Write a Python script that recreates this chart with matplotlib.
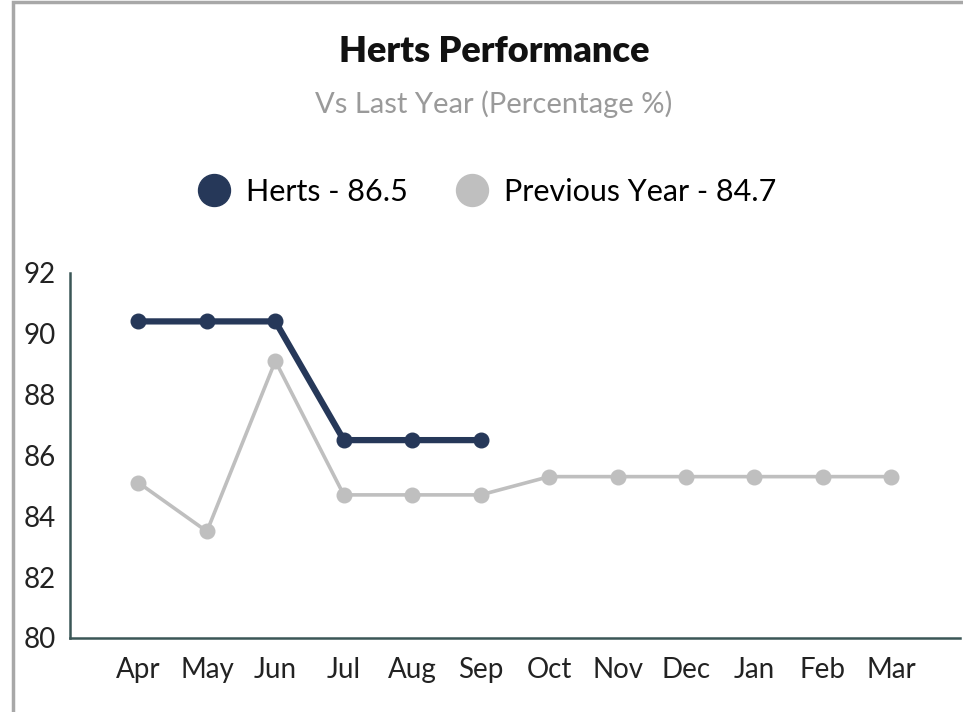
import matplotlib
matplotlib.use("Agg")
import matplotlib.pyplot as plt
from matplotlib.lines import Line2D
from matplotlib.patches import Rectangle

# Data
months = ["Apr", "May", "Jun", "Jul", "Aug", "Sep", "Oct", "Nov", "Dec", "Jan", "Feb", "Mar"]
herts = [90.4, 90.4, 90.4, 86.5, 86.5, 86.5]
previous = [85.1, 83.5, 89.1, 84.7, 84.7, 84.7, 85.3, 85.3, 85.3, 85.3, 85.3, 85.3]
herts_label = "Herts - 86.5"
prev_label = "Previous Year - 84.7"

navy = "#263859"
grey = "#BFBFBF"
axis_col = "#3B5656"

plt.rcParams['font.family'] = ['Lato', 'DejaVu Sans']

fig = plt.figure(figsize=(9.63, 7.12), dpi=100)
ax = fig.add_axes([0.0727, 0.104, 0.924, 0.513])

x_prev = range(len(previous))
x_herts = range(len(herts))
ax.plot(x_prev, previous, color=grey, lw=2.6, marker="o", ms=10.5, zorder=2)
ax.plot(x_herts, herts, color=navy, lw=4.5, marker="o", ms=10.5, zorder=3)

ax.set_xlim(-1, 12)
ax.set_ylim(80, 92)
ax.set_yticks(range(80, 93, 2))
ax.set_xticks(range(len(months)))
ax.set_xticklabels(months)
ax.tick_params(axis="both", length=0, labelsize=20, colors="#222222")
ax.tick_params(axis="x", pad=14)
ax.tick_params(axis="y", pad=10)
for s in ["top", "right"]:
    ax.spines[s].set_visible(False)
for s in ["left", "bottom"]:
    ax.spines[s].set_color(axis_col)
    ax.spines[s].set_linewidth(1.8)

# titles
fig.text(0.513, 0.928, "Herts Performance", ha="center", va="center",
         fontsize=26, fontweight="heavy", color="#111111")
fig.text(0.513, 0.853, "Vs Last Year (Percentage %)", ha="center", va="center",
         fontsize=21, color="#9A9A9A")

# legend
handles = [Line2D([], [], ls="", marker="o", ms=23, color=navy),
           Line2D([], [], ls="", marker="o", ms=23, color=grey)]
fig.legend(handles, [herts_label, prev_label], loc="center",
           bbox_to_anchor=(0.505, 0.731), ncol=2, frameon=False,
           fontsize=22, handletextpad=0.45, columnspacing=1.5, handlelength=1.2)

# frame of the chart area
fig.patches.append(Rectangle((0.013, -0.1), 1.2, 1.097, transform=fig.transFigure,
                             fill=False, edgecolor="#A8A8A8", lw=2.5))

fig.savefig("out.png", dpi=100)
